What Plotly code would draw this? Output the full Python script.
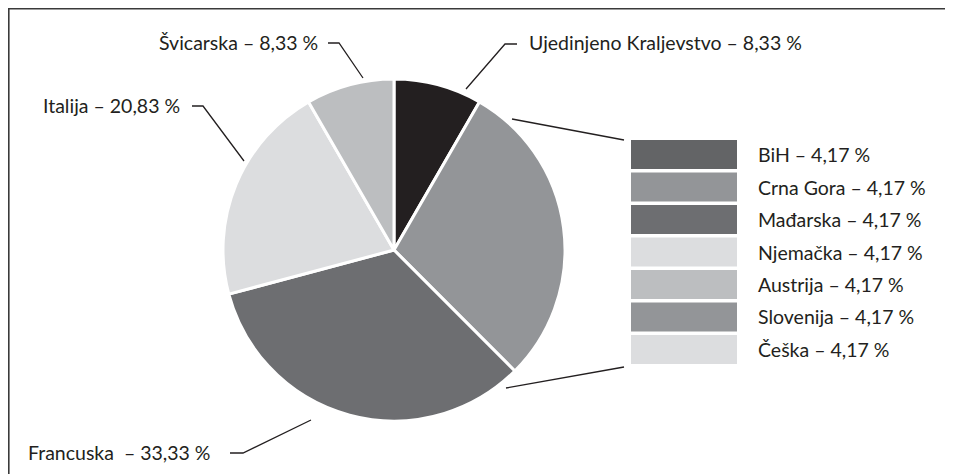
import plotly.graph_objects as go

# ---- data ----
pie_labels = ["Ujedinjeno Kraljevstvo", "Ostalo", "Francuska", "Italija", "Švicarska"]
pie_values = [8.33, None, 33.33, 20.83, 8.33]
pie_colors = ["#231f20", "#939598", "#6d6e71", "#dcdddf", "#bcbec0"]

other_labels = ["BiH", "Crna Gora", "Mađarska", "Njemačka", "Austrija", "Slovenija", "Češka"]
other_values = [4.17, 4.17, 4.17, 4.17, 4.17, 4.17, 4.17]
other_colors = ["#636466", "#939598", "#6d6e71", "#dcdddf", "#bcbec0", "#939598", "#dcdddf"]

pie_values[1] = round(sum(other_values), 2)

def pct(v):
    return f"{v:.2f}".replace(".", ",") + " %"

OFF = 8  # page body margin
W, H = 953 - OFF, 474 - OFF
FONT = "Lato"
TXT = "#231f20"

def px(x):
    return (x - OFF) / W

def py(y):
    return 1 - (y - OFF) / H

fig = go.Figure()

fig.add_trace(go.Pie(
    labels=pie_labels, values=pie_values, sort=False, direction="clockwise",
    rotation=0, textinfo="none", hoverinfo="label+percent",
    marker=dict(colors=pie_colors, line=dict(color="white", width=3)),
    domain=dict(x=[px(223), px(565)], y=[py(421), py(79)]),
    showlegend=False,
))

fig.add_trace(go.Bar(
    y=other_labels, x=[1] * len(other_labels), orientation="h",
    marker=dict(color=other_colors, line=dict(width=0)),
    xaxis="x", yaxis="y", showlegend=False, hoverinfo="y",
))

annotations = []
for lab, v in zip(other_labels, other_values):
    annotations.append(dict(
        x=1, y=lab, xref="x", yref="y", xanchor="left", yanchor="middle",
        xshift=19, text=f"{lab} – {pct(v)}", showarrow=False,
        font=dict(family=FONT, size=19.5, color=TXT)))

ext = {
    "Švicarska": dict(x=320, y=43, anchor="right"),
    "Ujedinjeno Kraljevstvo": dict(x=527, y=43, anchor="left"),
    "Italija": dict(x=182, y=105, anchor="right"),
    "Francuska": dict(x=213, y=452, anchor="right"),
}
for lab, v in zip(pie_labels, pie_values):
    if lab in ext:
        e = ext[lab]
        sep = "  – " if lab == "Francuska" else " – "
        annotations.append(dict(
            x=px(e["x"]), y=py(e["y"]), xref="paper", yref="paper",
            xanchor=e["anchor"], yanchor="middle", text=f"{lab}{sep}{pct(v)}",
            showarrow=False, font=dict(family=FONT, size=19.5, color=TXT)))

def path(pts):
    s = "M " + " L ".join(f"{px(x)},{py(y)}" for x, y in pts)
    return dict(type="path", xref="paper", yref="paper", path=s,
                line=dict(color="#231f20", width=1.3))

shapes = [
    path([(328, 43), (339, 43), (363, 78)]),
    path([(517, 44), (505, 44), (466, 89)]),
    path([(192, 106), (203, 106), (244, 161)]),
    path([(230, 453), (243, 453), (311, 420)]),
    path([(512, 119), (624, 140)]),
    path([(506, 388), (624, 367)]),
    # frame (top and left edges)
    dict(type="line", xref="paper", yref="paper",
         x0=0.8 / W, x1=0.8 / W, y0=0, y1=1 - 0.8 / H,
         line=dict(color="#3a3a3a", width=1.6)),
    dict(type="line", xref="paper", yref="paper",
         x0=0, x1=1.02, y0=1 - 0.8 / H, y1=1 - 0.8 / H,
         line=dict(color="#3a3a3a", width=1.6)),
]

fig.update_layout(
    width=W, height=H, margin=dict(l=0, r=0, t=0, b=0),
    paper_bgcolor="white", plot_bgcolor="rgba(0,0,0,0)",
    xaxis=dict(domain=[px(631), px(737)], range=[0, 1], visible=False, fixedrange=True),
    yaxis=dict(domain=[py(365.7), py(138.3)], range=[6.5, -0.5], visible=False,
               type="category", fixedrange=True),
    bargap=0.105,
    annotations=annotations, shapes=shapes,
    font=dict(family=FONT, color=TXT),
)

fig.write_html(
    "out.html",
    config={"displayModeBar": False},
    post_script="document.documentElement.style.overflow='hidden';"
                "document.body.style.overflow='hidden';",
)
